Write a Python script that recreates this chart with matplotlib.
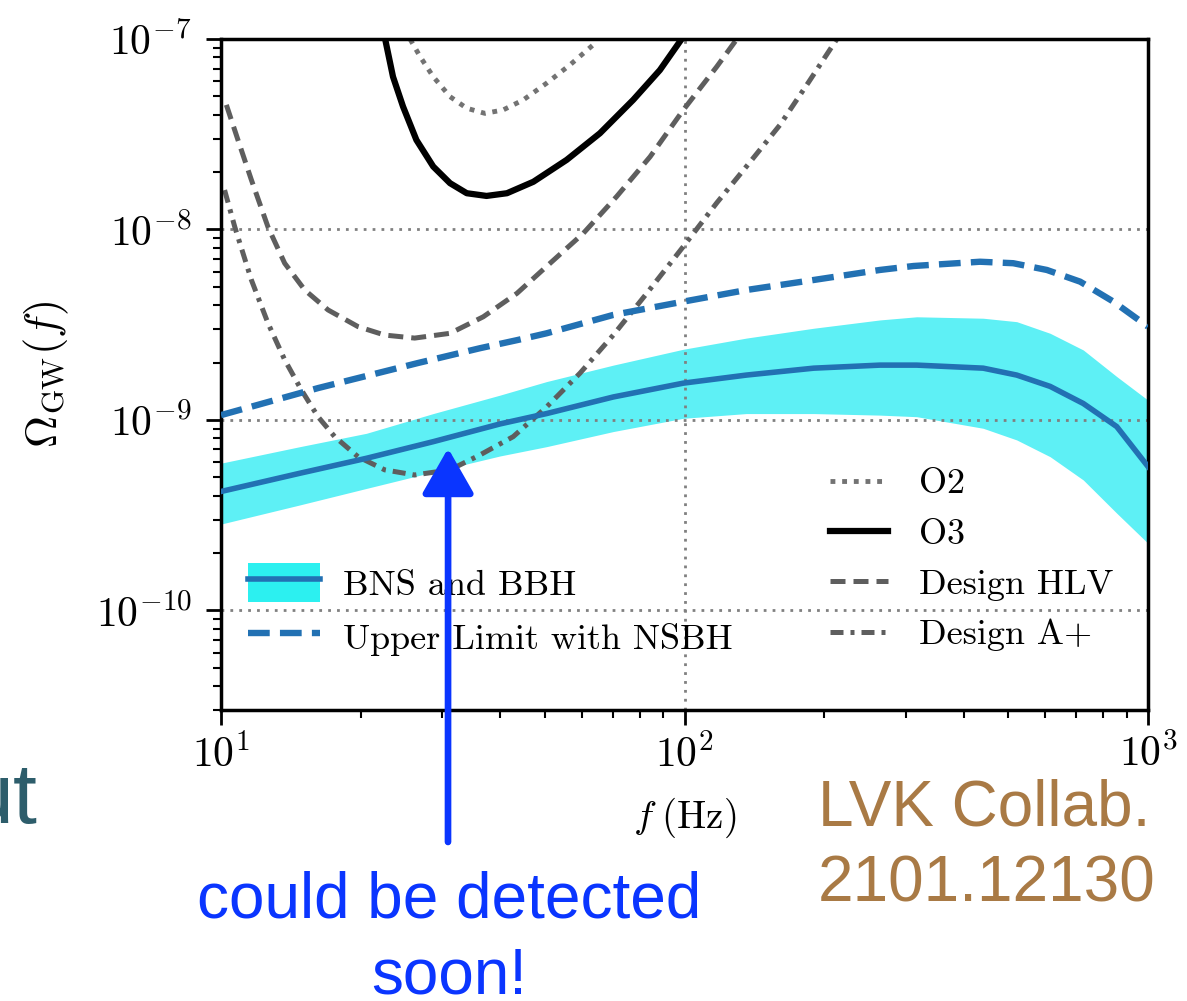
import matplotlib.pyplot as plt
from matplotlib.patches import Patch

# Computer Modern look for the plot itself
plt.rcParams['font.family'] = 'serif'
plt.rcParams['font.serif'] = ['cmr10']
plt.rcParams['mathtext.fontset'] = 'cm'
plt.rcParams['axes.formatter.use_mathtext'] = True

# BNS + BBH background: median and band
bg_f = [10.0, 14.8, 20.6, 28.7, 40.0, 50.4, 70.2, 99.4, 136, 190, 264, 317,
        441, 521, 615, 725, 856, 1000]
bg_mid = [4.21e-10, 5.25e-10, 6.29e-10, 7.69e-10, 9.53e-10, 1.08e-9, 1.32e-9,
          1.56e-9, 1.72e-9, 1.87e-9, 1.94e-9, 1.94e-9, 1.87e-9, 1.72e-9,
          1.50e-9, 1.22e-9, 9.23e-10, 5.69e-10]
bg_hi = [5.93e-10, 7.24e-10, 8.51e-10, 1.08e-9, 1.35e-9, 1.59e-9, 1.94e-9,
         2.35e-9, 2.69e-9, 3.03e-9, 3.35e-9, 3.48e-9, 3.42e-9, 3.28e-9,
         2.85e-9, 2.33e-9, 1.69e-9, 1.27e-9]
bg_lo = [2.84e-10, 3.58e-10, 4.37e-10, 5.33e-10, 6.47e-10, 7.24e-10, 8.69e-10,
         1.02e-9, 1.08e-9, 1.08e-9, 1.06e-9, 1.04e-9, 9.04e-10, 7.85e-10,
         6.41e-10, 4.84e-10, 3.24e-10, 2.25e-10]

# upper limit including NSBH
ul_f = [10.0, 16.2, 26.6, 36.2, 43.7, 50.4, 70.2, 99.4, 136, 190, 264, 312,
        434, 512, 605, 714, 842, 1000]
ul_omega = [1.06e-9, 1.47e-9, 1.99e-9, 2.38e-9, 2.63e-9, 2.85e-9, 3.56e-9,
            4.18e-9, 4.81e-9, 5.43e-9, 6.13e-9, 6.43e-9, 6.77e-9, 6.65e-9,
            6.13e-9, 5.32e-9, 4.18e-9, 3.09e-9]

# PI sensitivity curves
o2_f = [25.6, 26.9, 28.7, 31.2, 33.9, 37.1, 40.6, 44.9, 50.4, 56.6, 64.7]
o2_omega = [9.95e-8, 8.07e-8, 6.34e-8, 4.98e-8, 4.33e-8, 4.07e-8, 4.24e-8,
            4.79e-8, 5.86e-8, 7.31e-8, 9.68e-8]

o3_f = [22.6, 23.5, 24.7, 26.4, 28.7, 31.2, 33.9, 37.4, 41.4, 47.2, 55.7,
        65.7, 77.5, 88.5, 98.6]
o3_omega = [1.0e-7, 6.34e-8, 4.42e-8, 2.95e-8, 2.14e-8, 1.75e-8, 1.55e-8,
            1.50e-8, 1.55e-8, 1.78e-8, 2.32e-8, 3.20e-8, 4.79e-8, 6.87e-8,
            1.0e-7]

hlv_f = [10.27, 10.88, 11.63, 12.63, 13.72, 15.16, 17.02, 19.75, 22.55, 26.17,
         31.2, 36.8, 43.5, 51.3, 60.5, 71.4, 84.3, 99.4, 117.4, 129.6]
hlv_omega = [4.51e-8, 2.95e-8, 1.82e-8, 1.03e-8, 6.65e-9, 4.81e-9, 3.78e-9,
             3.09e-9, 2.79e-9, 2.69e-9, 2.85e-9, 3.48e-9, 4.62e-9, 6.65e-9,
             9.55e-9, 1.49e-8, 2.41e-8, 4.24e-8, 7.16e-8, 9.96e-8]

aplus_f = [10.18, 10.71, 11.63, 12.63, 13.72, 14.90, 16.19, 17.59, 19.75,
           22.55, 26.17, 31.2, 36.2, 42.7, 50.4, 59.5, 70.2, 82.9, 99.4,
           117.4, 138.5, 160.7, 185.3, 213.0]
aplus_omega = [1.61e-8, 1.03e-8, 5.43e-9, 3.22e-9, 2.07e-9, 1.44e-9, 1.04e-9,
               8.17e-10, 6.41e-10, 5.47e-10, 5.14e-10, 5.47e-10, 6.55e-10,
               8.17e-10, 1.17e-9, 1.76e-9, 2.79e-9, 4.62e-9, 8.13e-9,
               1.38e-8, 2.26e-8, 3.54e-8, 5.94e-8, 9.96e-8]

# where the arrow points
arrow_f, arrow_omega = 30.9, 7.1e-10

W, H = 1187, 1001
fig = plt.figure(figsize=(W / 100, H / 100), dpi=100)
ax = fig.add_axes([221 / W, 1 - 710 / H, 927 / W, 671 / H])


def px(x, y):
    # figure pixels (from top-left) -> figure fraction
    return x / W, 1 - y / H


blue = '#2271b3'
cyan = '#5ef0f5'
grey = '0.37'

ax.fill_between(bg_f, bg_lo, bg_hi, color=cyan, lw=0, zorder=0.2)
l_mid, = ax.plot(bg_f, bg_mid, color=blue, lw=4, zorder=3)
l_ul, = ax.plot(ul_f, ul_omega, color=blue, lw=4.6, ls=(0, (3.4, 1.6)),
                zorder=3)

l_o2, = ax.plot(o2_f, o2_omega, color='0.45', lw=3.5, ls=(0, (1, 1.4)),
                label='O2')
l_o3, = ax.plot(o3_f, o3_omega, color='k', lw=4.5, label='O3')
l_hlv, = ax.plot(hlv_f, hlv_omega, color=grey, lw=3.6, ls=(0, (3, 1.6)),
                 label='Design HLV')
l_ap, = ax.plot(aplus_f, aplus_omega, color=grey, lw=3.6,
                ls=(0, (2.6, 1.4, 0.8, 1.4)), label='Design A+')

ax.set_xscale('log')
ax.set_yscale('log')
ax.set_xlim(10, 1000)
ax.set_ylim(3e-11, 1e-7)

ax.grid(True, which='major', color='0.5', lw=2, ls=(0, (1, 2.2)))

for s in ax.spines.values():
    s.set_linewidth(2.5)
ax.tick_params(which='major', direction='out', length=11, width=2,
               labelsize=30)
ax.tick_params(which='minor', direction='out', length=6, width=1.5)
ax.tick_params(axis='y', which='major', pad=10)
ax.tick_params(axis='x', which='major', pad=6)

ax.set_xlabel(r'$f\;(\mathrm{Hz})$', fontsize=28)
ax.set_ylabel(r'$\Omega_{\mathrm{GW}}(f)$', fontsize=32)
ax.xaxis.set_label_coords(0.5, -0.128)
ax.yaxis.set_label_coords(-0.162, 0.5)

leg1 = ax.legend([(Patch(color='#2cf0f0', lw=0), l_mid), l_ul],
                 ['BNS and BBH', 'Upper Limit with NSBH'],
                 loc='upper left', bbox_to_anchor=px(248, 563),
                 bbox_transform=fig.transFigure, frameon=False, fontsize=26,
                 borderpad=0, borderaxespad=0, handlelength=2.0,
                 handleheight=1.3, handletextpad=0.64, labelspacing=0.4)
ax.add_artist(leg1)
ax.legend(handles=[l_o2, l_o3, l_hlv, l_ap], loc='upper left',
          bbox_to_anchor=px(830, 468), bbox_transform=fig.transFigure,
          frameon=False, fontsize=26, borderpad=0, borderaxespad=0,
          handlelength=1.6, handletextpad=0.86, labelspacing=0.5)

# hand-drawn style pointer to the A+ minimum
ax.annotate('', xy=(arrow_f, arrow_omega), xycoords='data',
            xytext=px(448, 842), textcoords='figure fraction',
            arrowprops=dict(arrowstyle='-|>,head_length=2.8,head_width=1.6',
                            mutation_scale=10, color='#0a35ff', lw=4.8,
                            shrinkA=0, shrinkB=0),
            zorder=10, annotation_clip=False)

sans = ['Liberation Sans', 'DejaVu Sans']
fig.text(*px(449, 918), 'could be detected', color='#0a35ff', fontsize=46,
         family=sans, ha='center', va='baseline')
fig.text(*px(449, 993), 'soon!', color='#0a35ff', fontsize=46,
         family=sans, ha='center', va='baseline')
fig.text(*px(818, 825), 'LVK Collab.', color='#a97a45', fontsize=46,
         family=sans, ha='left', va='baseline')
fig.text(*px(818, 902), '2101.12130', color='#a97a45', fontsize=46,
         family=sans, ha='left', va='baseline')
fig.text(*px(37, 823), 'ut', color='#2d5d6b', fontsize=62,
         family=sans, ha='right', va='baseline')

fig.savefig('out.png', dpi=100)
